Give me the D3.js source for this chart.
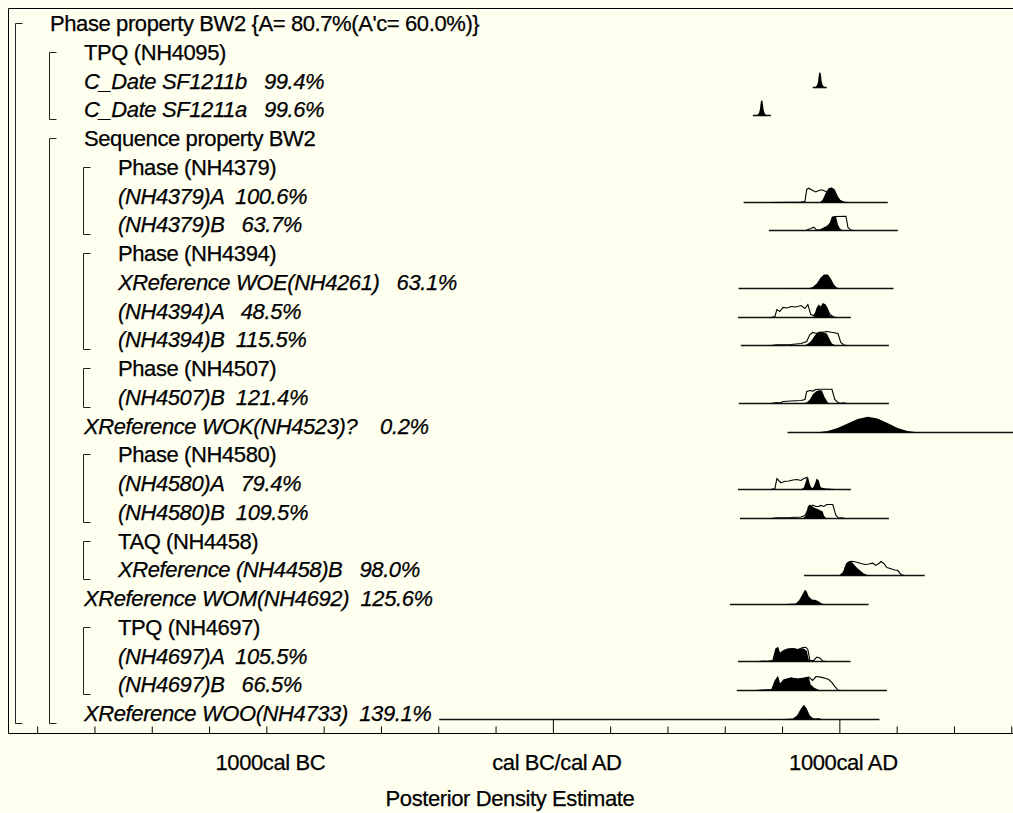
<!DOCTYPE html>
<html>
<head>
<meta charset="utf-8">
<script src="https://cdn.jsdelivr.net/npm/d3@7"></script>
<style>
body { margin: 0; background: #fffff0; }
text { font-family: "Liberation Sans", Arial, sans-serif; font-size: 22px; letter-spacing: -0.4px; fill: #000; stroke: #000; stroke-width: 0.25px; white-space: pre; }
</style>
</head>
<body>
<svg id="chart" width="1013" height="813"></svg>
<script>
// row labels, top to bottom
let labels = [
    "Phase property BW2 {A= 80.7%(A'c= 60.0%)}",
    "TPQ (NH4095)",
    "C_Date SF1211b   99.4%",
    "C_Date SF1211a   99.6%",
    "Sequence property BW2",
    "Phase (NH4379)",
    "(NH4379)A  100.6%",
    "(NH4379)B   63.7%",
    "Phase (NH4394)",
    "XReference WOE(NH4261)   63.1%",
    "(NH4394)A   48.5%",
    "(NH4394)B  115.5%",
    "Phase (NH4507)",
    "(NH4507)B  121.4%",
    "XReference WOK(NH4523)?    0.2%",
    "Phase (NH4580)",
    "(NH4580)A   79.4%",
    "(NH4580)B  109.5%",
    "TAQ (NH4458)",
    "XReference (NH4458)B   98.0%",
    "XReference WOM(NH4692)  125.6%",
    "TPQ (NH4697)",
    "(NH4697)A  105.5%",
    "(NH4697)B   66.5%",
    "XReference WOO(NH4733)  139.1%"
];
let levels  = [0,1,1,1,1,2,2,2,2,2,2,2,2,2,1,2,2,2,2,2,1,2,2,2,1];
let headers = [0,1,4,5,8,12,15,18,21];

// brackets: [first row, last row, level]
let groups = [[0,24,0],[1,3,1],[4,24,1],[5,7,2],[8,11,2],[12,13,2],[15,17,2],[18,19,2],[21,23,2]];

// distributions (years cal AD, relative density)
let distRows = [2,3,6,7,9,10,11,13,14,16,17,19,20,22,23,24];
let distRanges = [
    [907,956],[698,761],[666,1169],[754,1204],[648,1189],[646,1040],[656,1173],[649,1173],
    [819,1640],[646,1040],[653,1173],[877,1298],[618,1102],[646,1039],[642,1166],[-397,1140]
];
let likelihoods = [
    [],
    [],
    [[761,0],[831,0.02],[866,0.03],[880,0.07],[886,0.87],[893,0.95],[907,0.8],[918,0.7],[928,0.8],[939,0.85],[953,0.73],[970,0.6],[988,0.4],[1002,0.13],[1016,0.03],[1026,0]],
    [[883,0],[900,0.13],[911,0.22],[921,0.03],[935,0.07],[949,0.2],[963,0.33],[977,0.67],[984,0.93],[1023,0.95],[1030,0.2],[1040,0.03],[1050,0]],
    [],
    [[761,0],[775,0.07],[782,0.53],[792,0.4],[803,0.67],[817,0.63],[831,0.73],[848,0.7],[866,0.8],[880,0.6],[890,0.87],[900,0.2],[911,0.13],[925,0.53],[942,0.73],[956,0.67],[967,0.2],[981,0.03],[991,0]],
    [[761,0],[782,0.05],[831,0.07],[866,0.13],[886,0.27],[897,0.73],[907,0.87],[921,0.8],[935,0.87],[956,0.93],[977,0.87],[995,0.8],[1005,0.2],[1016,0.03],[1026,0]],
    [[761,0],[782,0.07],[792,0.03],[803,0.13],[831,0.17],[866,0.2],[880,0.27],[886,0.8],[897,0.87],[907,0.83],[918,0.93],[928,0.95],[974,0.95],[984,0.27],[995,0.07],[1005,0.02],[1016,0.05],[1026,0]],
    [],
    [[761,0],[775,0.07],[782,0.73],[796,0.45],[810,0.55],[824,0.57],[838,0.63],[852,0.67],[866,0.6],[876,0.73],[886,0.8],[893,0.1],[907,0.07],[921,0.1],[935,0.1],[949,0.05],[970,0.02],[981,0]],
    [[761,0],[782,0.05],[831,0.07],[866,0.1],[880,0.2],[893,0.67],[907,0.89],[918,0.8],[928,0.81],[935,0.87],[946,0.8],[956,0.93],[977,0.93],[988,0.2],[998,0.03],[1009,0.04],[1019,0]],
    [[1005,0],[1019,0.33],[1030,0.87],[1040,0.95],[1050,0.93],[1064,0.87],[1075,0.8],[1089,0.73],[1103,0.77],[1117,0.82],[1127,0.67],[1138,0.8],[1145,0.93],[1155,0.8],[1166,0.53],[1180,0.45],[1194,0.37],[1204,0.33],[1215,0.07],[1225,0]],
    [],
    [[719,0],[733,0.03],[747,0.01],[768,0.07],[778,0.83],[785,0.93],[792,0.53],[806,0.73],[820,0.83],[838,0.87],[855,0.8],[873,0.93],[883,0.95],[890,0.8],[897,0.07],[911,0.07],[921,0.29],[932,0.23],[942,0.03],[953,0]],
    [[708,0],[719,0.02],[764,0.07],[775,0.6],[785,0.9],[792,0.4],[806,0.7],[831,0.83],[855,0.77],[876,0.83],[893,0.9],[907,0.67],[918,0.93],[935,0.89],[953,0.8],[963,0.73],[974,0.53],[984,0.27],[995,0.03],[1005,0]],
    []
];
let posteriors = [
    [[911,0],[918,0.05],[923,0.2],[926,0.45],[928,0.8],[930,1],[934,1],[936,0.8],[938,0.45],[941,0.2],[946,0.05],[953,0]],
    [[708,0],[715,0.05],[720,0.2],[723,0.45],[725,0.8],[727,1],[731,1],[733,0.8],[735,0.45],[738,0.2],[743,0.05],[750,0]],
    [[932,0],[942,0.2],[953,0.67],[963,0.97],[974,1],[984,0.87],[995,0.4],[1005,0.13],[1016,0.03],[1026,0]],
    [[928,0],[942,0.13],[956,0.27],[967,0.53],[974,0.93],[988,0.95],[995,0.4],[1002,0.13],[1012,0]],
    [[796,0],[893,0.01],[907,0.1],[921,0.33],[935,0.73],[946,0.93],[960,0.93],[970,0.67],[981,0.27],[991,0.07],[1002,0]],
    [[900,0],[911,0.07],[921,0.67],[928,0.87],[935,0.73],[942,0.97],[953,0.87],[960,0.53],[967,0.13],[977,0.03],[991,0]],
    [[873,0],[886,0.07],[900,0.27],[914,0.67],[925,0.9],[935,0.93],[946,0.87],[956,0.8],[963,0.53],[974,0.13],[984,0.03],[998,0]],
    [[866,0],[886,0.07],[897,0.27],[907,0.6],[918,0.8],[928,0.89],[939,0.87],[949,0.4],[960,0.07],[967,0]],
    [[905,0],[924,0.02],[959,0.1],[994,0.3],[1029,0.6],[1064,0.9],[1099,1.05],[1133,0.93],[1168,0.63],[1203,0.3],[1238,0.1],[1273,0.02],[1295,0]],
    [[866,0],[876,0.13],[883,0.53],[890,0.89],[897,0.33],[904,0.07],[911,0.2],[921,0.73],[928,0.6],[935,0.13],[949,0.05],[970,0]],
    [[873,0],[883,0.2],[890,0.8],[897,0.93],[911,0.73],[928,0.6],[942,0.47],[946,0.2],[953,0.03],[960,0]],
    [[998,0],[1012,0.2],[1023,0.8],[1033,0.93],[1044,0.9],[1054,0.67],[1064,0.47],[1075,0.3],[1085,0.13],[1099,0.03],[1110,0]],
    [[761,0],[796,0.02],[848,0.07],[859,0.27],[869,0.6],[880,0.98],[886,0.87],[893,0.53],[904,0.33],[918,0.3],[928,0.2],[939,0.07],[953,0]],
    [[719,0],[733,0.03],[747,0.01],[768,0.07],[778,0.87],[785,0.95],[792,0.53],[806,0.75],[820,0.85],[838,0.89],[855,0.82],[873,0.89],[886,0.73],[893,0.13],[900,0]],
    [[708,0],[719,0.02],[764,0.07],[775,0.67],[785,0.93],[792,0.4],[806,0.73],[831,0.87],[855,0.78],[876,0.83],[893,0.89],[900,0.4],[911,0.2],[925,0.07],[935,0]],
    [[733,0],[796,0.02],[838,0.07],[852,0.27],[866,0.73],[876,0.98],[886,0.73],[897,0.27],[907,0.1],[918,0.07],[928,0.1],[939,0.02],[946,0]]
];

// axis
let minorTicks = [-1800,-1600,-1400,-1200,-1000,-800,-600,-400,-200,200,400,600,800,1200,1400,1600];
let majorTicks = [0, 1000];
let axisLabels = [[-1000, "1000cal BC"], [0, "cal BC/cal AD"], [1000, "1000cal AD"]];

let svg = d3.select("#chart");
let frameLeft = 8.5, frameTop = 8.5, frameBottom = 733.5;

let xScale = d3.scaleLinear().domain([-1900, 1620]).range([8.5, 1017]);
let rowY = d3.scaleLinear().domain([0, 24]).range([23, 713]);
let hScale = d3.scaleLinear().domain([0, 1]).range([0, 15]);
let textX = (lv) => 50 + 34 * lv;

svg.append("rect")
    .attr("width", 1013).attr("height", 813)
    .attr("fill", "#fffff0");

// frame
svg.append("path")
    .attr("d", `M1020,${frameTop}H${frameLeft}V${frameBottom}H1020`)
    .attr("fill", "none")
    .attr("stroke", "#000")
    .attr("stroke-width", 1);

// brackets
svg.append("g").selectAll("path")
    .data(groups)
    .join("path")
    .attr("d", (g) => {
        let bx = textX(g[2]) - 35 + 0.5;
        let top = Math.round(rowY(g[0])) + 0.5;
        let bot = Math.round(rowY(g[1])) + 10.5;
        return `M${bx + 7},${top}H${bx}V${bot}H${bx + 7}`;
    })
    .attr("fill", "none")
    .attr("stroke", "#222")
    .attr("stroke-width", 1);

// row labels
svg.append("g").selectAll("text")
    .data(labels)
    .join("text")
    .attr("x", (d, i) => textX(levels[i]))
    .attr("y", (d, i) => rowY(i) + 8)
    .style("font-style", (d, i) => headers.includes(i) ? "normal" : "italic")
    .text((d) => d);

// distributions
let lineGen = d3.line().x((d) => xScale(d[0])).y((d) => -hScale(d[1]));
let areaGen = d3.area().x((d) => xScale(d[0])).y0(0).y1((d) => -hScale(d[1]));

distRows.forEach((r, k) => {
    let g = svg.append("g")
        .attr("transform", `translate(0, ${Math.round(rowY(r)) + 6.5})`);
    g.append("line")
        .attr("x1", xScale(distRanges[k][0]))
        .attr("x2", xScale(distRanges[k][1]))
        .attr("stroke", "#111")
        .attr("stroke-width", 1.6);
    if (likelihoods[k].length) {
        g.append("path")
            .datum(likelihoods[k])
            .attr("d", lineGen)
            .attr("fill", "none")
            .attr("stroke", "#000")
            .attr("stroke-width", 1.1);
    }
    g.append("path")
        .datum(posteriors[k])
        .attr("d", areaGen)
        .attr("fill", "#000");
});

// ticks pointing up from the bottom frame
let minorAxis = d3.axisTop(xScale).tickValues(minorTicks).tickSize(7).tickFormat("");
let majorAxis = d3.axisTop(xScale).tickValues(majorTicks).tickSize(14).tickFormat("");
[minorAxis, majorAxis].forEach((ax) => {
    let a = svg.append("g")
        .attr("transform", `translate(0, ${frameBottom})`)
        .call(ax);
    a.select(".domain").remove();
    a.selectAll("line").attr("stroke", "#000");
});

svg.append("g").selectAll("text")
    .data(axisLabels)
    .join("text")
    .attr("x", (d) => xScale(d[0]) + 4)
    .attr("y", 770)
    .attr("text-anchor", "middle")
    .text((d) => d[1]);

svg.append("text")
    .attr("x", 510)
    .attr("y", 806)
    .attr("text-anchor", "middle")
    .text("Posterior Density Estimate");
</script>
</body>
</html>
